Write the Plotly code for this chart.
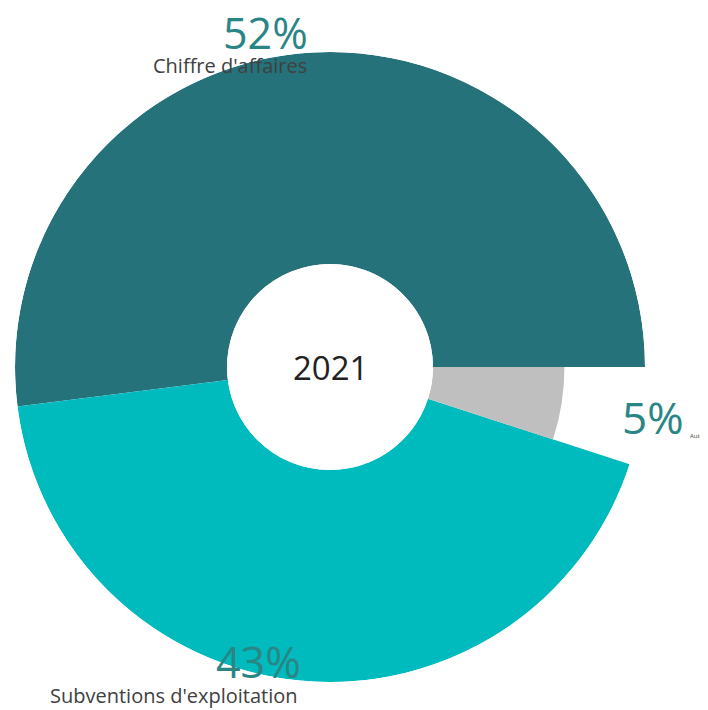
import plotly.graph_objects as go

# Data
categories = ["Chiffre d'affaires", "Subventions d'exploitation", "Autres produits"]
percentages = [52, 43, 5]
short_labels = ["Chiffre d'affaires", "Subventions d'exploitation", "Autres pro"]
center_label = "2021"

# Styles
colors = ["#25727A", "#00BBBD", "#BFBFBF"]
radial_size = [1.0, 1.0, 0.62]   # relative slice depth (grey slice is shorter)

W, H = 708, 710
OX, OY = -8, -9            # compensate page offset
cx, cy = 330 + OX, 368 + OY
R_out, R_hole = 315, 103

# angular positions computed from percentages
total = sum(percentages)
widths = [p / total * 360 for p in percentages]
centers = []
acc = 0
for w in widths:
    centers.append(acc + w / 2)
    acc += w

fig = go.Figure()
fig.add_trace(go.Barpolar(
    r=radial_size,
    theta=centers,
    width=widths,
    marker=dict(color=colors, line=dict(width=0)),
    hoverinfo="skip",
    showlegend=False,
))

dom_x = [(cx - R_out) / W, (cx + R_out) / W]
dom_y = [((H - cy) - R_out) / H, ((H - cy) + R_out) / H]

fig.update_layout(
    width=W, height=H,
    margin=dict(l=0, r=0, t=0, b=0),
    paper_bgcolor="white",
    plot_bgcolor="white",
    polar=dict(
        domain=dict(x=dom_x, y=dom_y),
        hole=R_hole / R_out,
        bgcolor="rgba(0,0,0,0)",
        radialaxis=dict(range=[0, 1], visible=False, showgrid=False),
        angularaxis=dict(rotation=0, direction="counterclockwise",
                         visible=False, showgrid=False),
    ),
    font=dict(family="Open Sans"),
)

pct_color = "#2A8585"
lab_color = "#404040"

def ann(x, y, text, size, color, xanchor="center"):
    fig.add_annotation(x=(x + OX) / W, y=1 - (y + OY) / H, xref="paper", yref="paper",
                       text=text, showarrow=False, xanchor=xanchor, yanchor="middle",
                       font=dict(size=size, color=color, family="Open Sans"))

ann(265, 34, f"{percentages[0]}%", 43, pct_color)
ann(230, 66, short_labels[0], 20, lab_color)
ann(258, 662, f"{percentages[1]}%", 43, pct_color)
ann(174, 696, short_labels[1], 20, lab_color)
ann(653, 418, f"{percentages[2]}%", 44, pct_color)
ann(688, 437, short_labels[2], 6, lab_color, xanchor="left")
ann(330, 368, center_label, 33, "#222222")

fig.write_html("out.html")
